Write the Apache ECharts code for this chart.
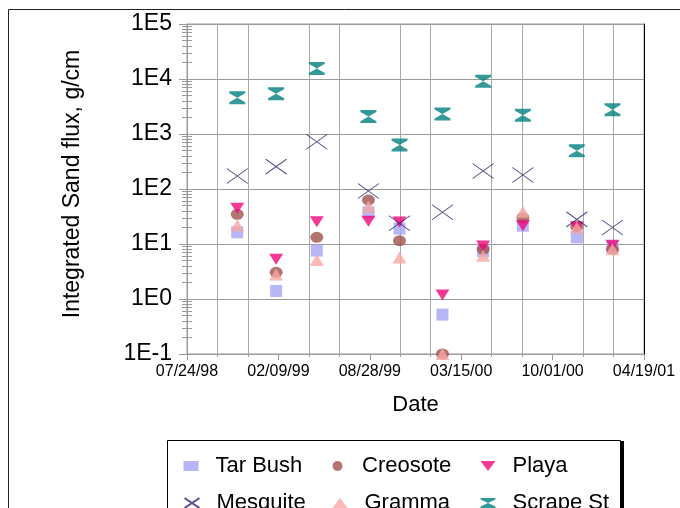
<!DOCTYPE html>
<html><head><meta charset="utf-8">
<script src="https://cdn.jsdelivr.net/npm/echarts@6/dist/echarts.min.js"></script>
<style>html,body{margin:0;padding:0;background:#fff}#c{width:680px;height:508px}</style>
</head><body><div id="c"></div>
<script>
const baseDate = '1998-07-24';
const dates = ['1998-11-11','1999-02-04','1999-05-04','1999-08-25','1999-11-01','2000-02-03','2000-05-02','2000-07-28','2000-11-23','2001-02-09'];
const tarBush  = [16.3, 1.4, 7.6, 37.7, 19, 0.52, 7.4, 21.5, 13.2, 9];
const creosote = [34.7, 3.05, 13.2, 63, 11.5, 0.1, 8, 30, 20.6, 8];
const playa    = [44.6, 5.3, 25.5, 26, 25, 1.18, 9.2, 21.5, 20.6, 9.5];
const mesquite = [172, 255, 725, 92, 23.8, 37.7, 212, 180, 28, 20];
const gramma   = [22, 2.8, 5.1, 47.7, 5.7, 0.1, 6.1, 38.7, 20, 8];
const scrapeSt = [4570, 5400, 15600, 2070, 630, 2310, 9080, 2190, 497, 2770];
const seriesNames = ['Tar Bush','Creosote','Playa','Mesquite','Gramma','Scrape St'];
const yTickLabels = ['1E-1','1E0','1E1','1E2','1E3','1E4','1E5'];
const xTitle = 'Date';
const yTitle = 'Integrated Sand flux, g/cm';

const FONT = '"Liberation Sans", Arial, sans-serif';
const DAY = 86400000;
const base = Date.parse(baseDate + 'T00:00:00Z');
function dayOffset(s) { return Math.round((Date.parse(s + 'T00:00:00Z') - base) / DAY); }
function fmtDate(v) {
  const d = new Date(base + v * DAY);
  const p = n => String(n).padStart(2, '0');
  return p(d.getUTCMonth() + 1) + '/' + p(d.getUTCDate()) + '/' + p(d.getUTCFullYear() % 100);
}
function pts(vals) { return dates.map((d, i) => [dayOffset(d), vals[i]]); }

// log minor tick positions (axis decoration)
const minorTickValues = [];
for (let e = -1; e < 5; e++) for (let k = 2; k <= 9; k++) minorTickValues.push(+(k * Math.pow(10, e)).toPrecision(3));

const grey = '#9a9a9a';
const chart = echarts.init(document.getElementById('c'), null, {renderer: 'canvas'});
const logAxisBase = {type: 'log', logBase: 10, min: 0.1, max: 100000, splitNumber: 6, gridIndex: 0};

const legendCols = [183.5, 332.5, 480.5];
const legendRows = [455, 492];
function legendItem(i) {
  return {
    left: legendCols[i % 3], top: legendRows[Math.floor(i / 3)], padding: 0,
    itemWidth: 15, itemHeight: 10, symbolKeepAspect: false,
    textStyle: {fontSize: 22, color: '#000', padding: [0, 0, 0, 12], fontFamily: FONT},
    data: [seriesNames[i]]
  };
}

chart.setOption({
  animation: false,
  backgroundColor: '#fff',
  textStyle: {fontFamily: FONT},
  grid: {left: 187, right: 36, top: 24, bottom: 154, show: true, borderColor: grey, borderWidth: 1, backgroundColor: 'transparent'},
  xAxis: [{
    type: 'value', min: 0, max: 1000, interval: 200,
    name: xTitle, nameLocation: 'middle', nameGap: 40,
    nameTextStyle: {fontSize: 22, color: '#000', fontFamily: FONT},
    axisLine: {show: true, lineStyle: {color: grey}},
    axisTick: {show: true, length: 6, lineStyle: {color: grey}},
    minorTick: {show: true, splitNumber: 3, length: 3, lineStyle: {color: grey}},
    splitLine: {show: false},
    minorSplitLine: {show: true, lineStyle: {color: '#a8a8a8'}},
    axisLabel: {formatter: fmtDate, fontSize: 16, color: '#000', margin: 10, fontFamily: FONT}
  }],
  yAxis: [
    Object.assign({}, logAxisBase, {
      position: 'left',
      axisLine: {show: true, lineStyle: {color: grey}},
      axisTick: {show: true, length: 8, lineStyle: {color: grey}},
      splitLine: {show: true, lineStyle: {color: grey}},
      axisLabel: {formatter: v => yTickLabels[Math.round(Math.log10(v)) + 1], fontSize: 23, color: '#000', margin: 15, fontFamily: FONT}
    }),
    Object.assign({}, logAxisBase, {
      position: 'left',
      axisLine: {show: false}, splitLine: {show: false}, axisLabel: {show: false},
      axisTick: {show: true, length: 5, customValues: minorTickValues, lineStyle: {color: grey}}
    }),
    Object.assign({}, logAxisBase, {
      position: 'left',
      axisLine: {show: false}, splitLine: {show: false}, axisLabel: {show: false},
      axisTick: {show: true, inside: true, length: 5, customValues: minorTickValues, lineStyle: {color: grey}}
    }),
    {
      type: 'value', position: 'right', min: 0, max: 1, gridIndex: 0,
      axisLine: {show: true, lineStyle: {color: '#000', width: 1}},
      axisTick: {show: false}, axisLabel: {show: false}, splitLine: {show: false}
    }
  ],
  legend: seriesNames.map((n, i) => legendItem(i)),
  graphic: [
    {type: 'rect', z: -1, silent: true, shape: {x: 8.5, y: 9.5, width: 700, height: 600}, style: {fill: 'none', stroke: '#222', lineWidth: 1}},
    {type: 'rect', z: -1, silent: true, shape: {x: 167.5, y: 440.5, width: 453, height: 100}, style: {fill: '#fff', stroke: '#000', lineWidth: 1}},
    {type: 'rect', z: -1, silent: true, shape: {x: 621, y: 441, width: 3, height: 100}, style: {fill: '#000'}},
    {type: 'text', x: 73, y: 184, rotation: Math.PI / 2, silent: true,
     style: {text: yTitle, fontSize: 23, fill: '#000', fontFamily: FONT, align: 'center', verticalAlign: 'middle'}}
  ],
  series: [
    {name: seriesNames[0], type: 'scatter', data: pts(tarBush), symbol: 'path://M0,0H10V10H0Z', symbolSize: [12, 12],
     itemStyle: {color: '#a4a4f6'}},
    {name: seriesNames[1], type: 'scatter', data: pts(creosote), symbol: 'circle', symbolSize: [13, 11],
     itemStyle: {color: '#a0524c'}},
    {name: seriesNames[2], type: 'scatter', data: pts(playa), symbol: 'path://M0,0L10,0L5,8Z', symbolSize: [14, 11],
     itemStyle: {color: '#f0087a'}},
    {name: seriesNames[3], type: 'scatter', data: pts(mesquite), symbol: 'path://M0,0L10,10M10,0L0,10', symbolSize: [21, 15],
     itemStyle: {color: 'transparent', borderColor: '#25256a', borderWidth: 1}},
    {name: seriesNames[4], type: 'scatter', data: pts(gramma), symbol: 'path://M5,0L10,9L0,9Z', symbolSize: [14, 12],
     itemStyle: {color: '#f8a8a4'}},
    {name: seriesNames[5], type: 'scatter', data: pts(scrapeSt), symbol: 'path://M0,0H10V1.5L5,5L10,8.5V10H0V8.5L5,5L0,1.5Z', symbolSize: [16, 13],
     itemStyle: {color: '#008080'}}
  ]
});
</script>
</body></html>
